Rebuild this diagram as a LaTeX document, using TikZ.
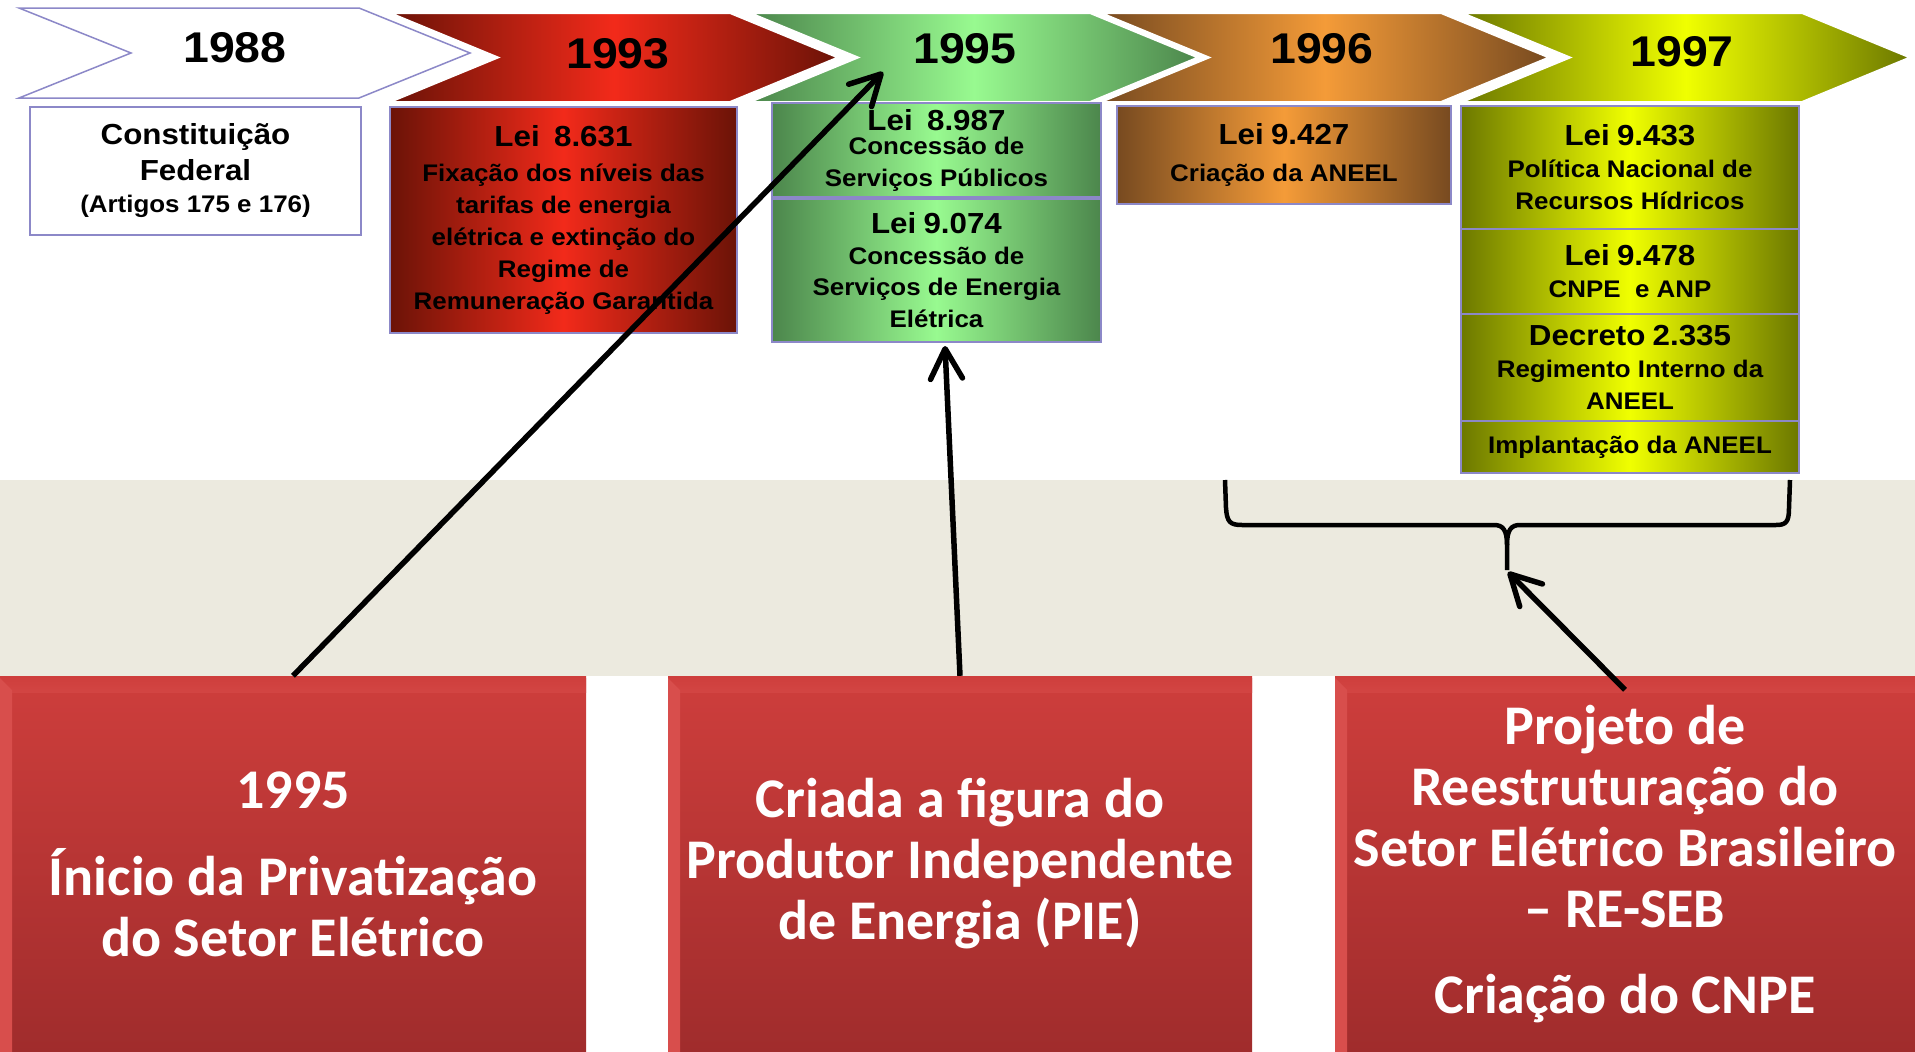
\documentclass[tikz,border=0pt]{standalone}
\usepackage{fontspec}
\setmainfont{Liberation Sans}[FakeStretch=1.08]
\newfontfamily\calib{Carlito}
\usetikzlibrary{arrows.meta}
\newcommand\tightsp{\spaceskip=\fontdimen2\font\relax\xspaceskip=\spaceskip\relax}
\definecolor{lav}{HTML}{8C88C8}
\definecolor{rdark}{HTML}{6B1307}
\definecolor{rbright}{HTML}{F22A1A}
\definecolor{gdark}{HTML}{4C864C}
\definecolor{gbright}{HTML}{98FA90}
\definecolor{odark}{HTML}{774A20}
\definecolor{obright}{HTML}{F49B38}
\definecolor{ydark}{HTML}{6C7800}
\definecolor{ybright}{HTML}{F0FF00}
\definecolor{beige}{HTML}{ECEADF}
\definecolor{bredtop}{HTML}{CE3E3C}
\definecolor{bredbot}{HTML}{A02C2C}
\definecolor{pinkhl}{HTML}{FF8E8C}
\definecolor{bevel}{HTML}{D84E4C}
\newcommand\chevshape[4]{\path[#4] (#1,#2) -- ({#1+340},#2) -- ({#1+448},{(#2+#3)/2}) -- ({#1+340},#3) -- (#1,#3) -- ({#1+108},{(#2+#3)/2}) -- cycle;}
\begin{document}
\begin{tikzpicture}[x=1pt,y=-1pt,
  redg/.style={left color=rdark,right color=rdark,middle color=rbright},
  greeng/.style={left color=gdark,right color=gdark,middle color=gbright},
  orangeg/.style={left color=odark,right color=odark,middle color=obright},
  yellowg/.style={left color=ydark,right color=ydark,middle color=ybright},
  chevw/.style={draw=white,line width=2pt},
  yr/.style={font=\bfseries\fontsize{43}{43}\selectfont,inner sep=0pt},
  topbox/.style={draw=lav,line width=1.5pt,inner sep=0pt,align=center,
    font=\bfseries\fontsize{24}{32}\selectfont,
    execute at begin node={\lineskiplimit=-50pt\lineskip=0pt}},
  bbox/.style={top color=bredtop,bottom color=bredbot,inner sep=0pt,align=center,
    text=white,text width=570pt,font=\calib\bfseries\fontsize{56}{61}\selectfont,
    path picture={
      \fill[top color=bredtop,bottom color=bredtop,middle color=pinkhl]
        ([yshift=-2pt]path picture bounding box.north west) rectangle
        ([yshift=-16pt]path picture bounding box.north east);
      \fill[bevel] ([yshift=-2pt]path picture bounding box.north west) --
        ([xshift=12pt,yshift=-14pt]path picture bounding box.north west) --
        ([xshift=12pt]path picture bounding box.south west) --
        (path picture bounding box.south west) -- cycle;}},
  arr/.style={line width=5.5pt,-{Straight Barb[length=30pt,width=32pt,round]}},
  bracestyle/.style={line width=4.5pt,line join=round}]
\useasboundingbox (0,0) rectangle (1915,1052);
\fill[white] (0,0) rectangle (1915,1052);
\fill[beige] (0,480) rectangle (1915,676);

% chevrons
\path[draw=lav,line width=1.5pt,fill=white] (19,8) -- (359,8) -- (470,53) -- (359,98) -- (19,98) -- (131,53) -- cycle;
\chevshape{390}{13}{102}{chevw,redg}
\chevshape{750}{13}{102}{chevw,greeng}
\chevshape{1101}{13}{102}{chevw,orangeg}
\chevshape{1462}{13}{102}{chevw,yellowg}

\node[yr] (y1988) at (235,48) {1988};
\node[yr] (y1993) at (618,54) {1993};
\node[yr] (y1995) at (965,49) {1995};
\node[yr] (y1996) at (1322,49) {1996};
\node[yr] (y1997) at (1682,52) {1997};

% boxes
\node[topbox,fill=white,minimum width=331pt,minimum height=128pt,text width=325pt] (cf) at (195.5,171)
  {\tightsp\fontsize{29}{36}\selectfont Constituição\\ Federal\\ \fontsize{24}{37}\selectfont (Artigos 175 e 176)};
\node[topbox,redg,minimum width=347pt,minimum height=226pt,text width=341pt] (l8631) at (563.5,220)
  {\tightsp\fontsize{29}{32}\selectfont Lei\ \ 8.631\\[3pt] \fontsize{24}{32}\selectfont Fixação dos níveis das\\ tarifas de energia\\ elétrica e extinção do\\ Regime de\\ Remuneração Garantida};
\node[topbox,greeng,minimum width=329pt,minimum height=94pt,text width=323pt] (l8987) at (936.5,150)
  {\tightsp\fontsize{29}{30}\selectfont Lei\ \ 8.987\\[1pt] \fontsize{24}{23}\selectfont Concessão de\\ Serviços Públicos};
\node[topbox,greeng,minimum width=329pt,minimum height=143pt,text width=323pt] (l9074) at (936.5,270.5)
  {\tightsp\fontsize{29}{32}\selectfont Lei 9.074\\ \fontsize{24}{31}\selectfont Concessão de\\ Serviços de Energia\\ Elétrica};
\node[topbox,orangeg,minimum width=334pt,minimum height=98pt,text width=328pt] (l9427) at (1284,155)
  {\tightsp\fontsize{29}{32}\selectfont Lei 9.427\\[5pt] \fontsize{24}{32}\selectfont Criação da ANEEL};
\node[topbox,yellowg,minimum width=338pt,minimum height=123pt,text width=332pt] (l9433) at (1630,167.5)
  {\tightsp\fontsize{29}{32}\selectfont Lei 9.433\\ \fontsize{24}{32}\selectfont Política Nacional de\\ Recursos Hídricos};
\node[topbox,yellowg,minimum width=338pt,minimum height=85pt,text width=332pt] (l9478) at (1630,271.5)
  {\tightsp\fontsize{29}{32}\selectfont Lei 9.478\\ \fontsize{24}{33}\selectfont CNPE\ \ e ANP};
\node[topbox,yellowg,minimum width=338pt,minimum height=107pt,text width=332pt] (d2335) at (1630,367.5)
  {\tightsp\fontsize{29}{32}\selectfont Decreto 2.335\\ \fontsize{24}{32}\selectfont Regimento Interno da\\ ANEEL};
\node[topbox,yellowg,minimum width=338pt,minimum height=52pt,text width=332pt] (impl) at (1630,447)
  {\tightsp Implantação da ANEEL};

% bottom boxes
\node[bbox,minimum width=586pt,minimum height=376pt] (b1) at (293,864)
  {\tightsp 1995\\[26pt] Ínicio da Privatização\\ do Setor Elétrico};
\node[bbox,minimum width=584pt,minimum height=376pt] (b2) at (960,864)
  {\tightsp Criada a figura do\\ Produtor Independente\\ de Energia (PIE)};
\node[bbox,minimum width=580pt,minimum height=376pt] (b3) at (1625,864)
  {\tightsp Projeto de\\ Reestruturação do\\ Setor Elétrico Brasileiro\\ – RE-SEB\\[25pt] Criação do CNPE};

% brace
\draw[bracestyle] (1225,480) -- (1226,508) .. controls (1227,522) and (1230,525) .. (1242,525) -- (1494,525)
  .. controls (1503,525) and (1507,530) .. (1507,545) -- (1507,570);
\draw[bracestyle] (1507,545) .. controls (1507,530) and (1511,525) .. (1520,525) -- (1776,525)
  .. controls (1786,525) and (1789,522) .. (1789,508) -- (1790,480);
\coordinate (bracetip) at (1508,572);
\coordinate (tip1) at (883,72);
\coordinate (tip2) at (945,346);

% arrows
\draw[arr] (b1.north) -- (tip1);
\draw[arr] (b2.north) -- (tip2);
\draw[arr] ([yshift=-14pt]b3.north) -- (bracetip);
\end{tikzpicture}
\end{document}
